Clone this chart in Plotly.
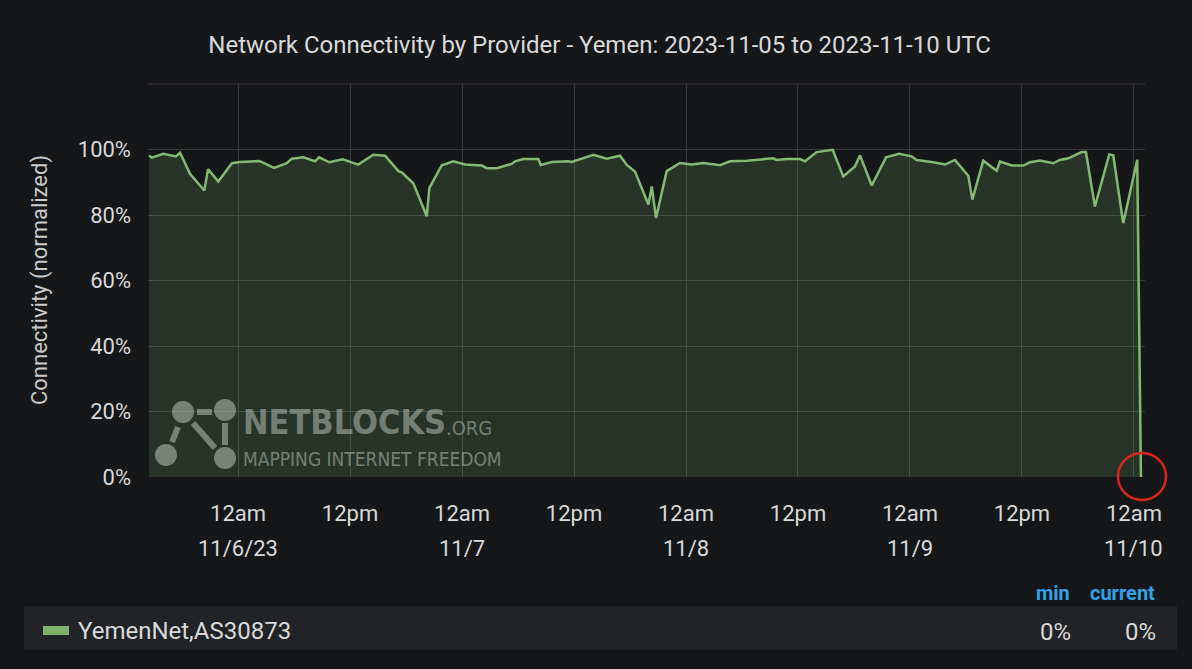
import plotly.graph_objects as go

# ---------------- data ----------------
times = [
    "2023-11-05 14:28", "2023-11-05 14:45", "2023-11-05 16:00", "2023-11-05 17:21", "2023-11-05 17:47",
    "2023-11-05 18:51", "2023-11-05 20:23", "2023-11-05 20:47", "2023-11-05 21:53", "2023-11-05 23:20",
    "2023-11-06 00:13", "2023-11-06 02:17", "2023-11-06 03:51", "2023-11-06 05:13", "2023-11-06 05:45",
    "2023-11-06 07:00", "2023-11-06 08:15", "2023-11-06 08:41", "2023-11-06 09:47", "2023-11-06 11:13",
    "2023-11-06 12:53", "2023-11-06 14:30", "2023-11-06 15:45", "2023-11-06 17:11", "2023-11-06 17:32",
    "2023-11-06 18:47", "2023-11-06 20:13", "2023-11-06 20:30", "2023-11-06 21:50", "2023-11-06 23:04",
    "2023-11-07 00:19", "2023-11-07 02:07", "2023-11-07 02:39", "2023-11-07 03:43", "2023-11-07 05:20",
    "2023-11-07 05:41", "2023-11-07 06:34", "2023-11-07 08:11", "2023-11-07 08:26", "2023-11-07 09:37",
    "2023-11-07 11:23", "2023-11-07 11:45", "2023-11-07 14:04", "2023-11-07 15:30", "2023-11-07 16:56",
    "2023-11-07 17:39", "2023-11-07 18:32", "2023-11-07 19:58", "2023-11-07 20:20", "2023-11-07 20:47",
    "2023-11-07 21:56", "2023-11-07 23:21", "2023-11-08 00:37", "2023-11-08 01:51", "2023-11-08 03:39",
    "2023-11-08 04:43", "2023-11-08 06:30", "2023-11-08 09:21", "2023-11-08 09:43", "2023-11-08 10:47",
    "2023-11-08 12:13", "2023-11-08 12:45", "2023-11-08 14:00", "2023-11-08 15:43", "2023-11-08 16:51",
    "2023-11-08 18:06", "2023-11-08 18:39", "2023-11-08 19:54", "2023-11-08 21:26", "2023-11-08 22:51",
    "2023-11-09 00:11", "2023-11-09 00:43", "2023-11-09 02:30", "2023-11-09 03:45", "2023-11-09 04:49",
    "2023-11-09 06:15", "2023-11-09 06:41", "2023-11-09 07:51", "2023-11-09 09:17", "2023-11-09 09:39",
    "2023-11-09 10:54", "2023-11-09 12:08", "2023-11-09 12:51", "2023-11-09 13:56", "2023-11-09 15:21",
    "2023-11-09 16:04", "2023-11-09 16:58", "2023-11-09 18:24", "2023-11-09 18:51", "2023-11-09 19:49",
    "2023-11-09 21:21", "2023-11-09 21:47", "2023-11-09 22:51", "2023-11-10 00:21", "2023-11-10 00:45",
]
connectivity = [
    98.2, 97.5, 98.7, 97.9, 99.0, 92.6, 87.5, 94.0, 90.2, 95.8,
    96.2, 96.5, 94.4, 95.8, 97.2, 97.6, 96.4, 97.6, 96.1, 97.0,
    95.4, 98.4, 98.1, 93.4, 93.0, 89.7, 79.6, 88.3, 95.2, 96.4,
    95.4, 95.1, 94.3, 94.3, 95.6, 96.4, 97.1, 97.1, 95.3, 96.2,
    96.4, 96.2, 98.4, 97.2, 98.1, 95.3, 93.3, 83.2, 88.7, 79.1,
    93.4, 95.9, 95.4, 95.9, 95.2, 96.4, 96.6, 97.3, 96.8, 97.1,
    97.1, 96.4, 99.2, 99.9, 91.8, 94.8, 98.2, 89.0, 97.6, 98.7,
    97.9, 96.8, 96.1, 95.4, 96.8, 92.0, 84.7, 96.6, 93.5, 96.3,
    95.1, 95.1, 96.1, 96.6, 95.8, 96.8, 97.3, 99.2, 99.2, 82.6,
    98.5, 98.2, 77.5, 96.9, 0.0,
]
series_name = "YemenNet,AS30873"
x_tick_vals = ["2023-11-06 00:00", "2023-11-06 12:00", "2023-11-07 00:00", "2023-11-07 12:00",
               "2023-11-08 00:00", "2023-11-08 12:00", "2023-11-09 00:00", "2023-11-09 12:00",
               "2023-11-10 00:00"]
x_tick_text = ["12am", "12pm", "12am", "12pm", "12am", "12pm", "12am", "12pm", "12am"]
date_labels = ["11/6/23", "11/7", "11/8", "11/9", "11/10"]
date_label_pos = ["2023-11-06 00:00", "2023-11-07 00:00", "2023-11-08 00:00", "2023-11-09 00:00",
                  "2023-11-10 00:00"]
y_tick_vals = [0, 20, 40, 60, 80, 100, 120]
y_tick_text = ["0%", "20%", "40%", "60%", "80%", "100%", ""]
legend_min = "0%"
legend_current = "0%"

# ---------------- layout helpers (pixel -> paper) ----------------
W, H = 1192, 669
L, R, T, B = 148, 1145, 84, 477


def px(x):
    return (x - L) / (R - L)


def py(y):
    return (B - y) / (B - T)


BG = "#161719"
TXT = "#d8d9da"
GREEN = "#7eb26d"
GRID = "#38393c"
FONT = "Roboto, Noto Sans, sans-serif"
WMFONT = "Liberation Sans Narrow, DejaVu Sans Condensed, sans-serif"

fig = go.Figure()
fig.add_trace(go.Scatter(
    x=times, y=connectivity, mode="lines", name=series_name,
    line=dict(color="#84b973", width=2.5),
    fill="tozeroy", fillcolor="rgba(126,178,109,0.19)",
    hoverinfo="x+y",
))

shapes = []
annotations = []

# watermark logo (nodes + links)
wm = "rgba(185,192,185,0.55)"
for (x0, y0, x1, y1) in [(197, 412, 212, 412), (193, 423, 215, 448), (178, 427, 172, 442), (225, 423, 225, 445)]:
    shapes.append(dict(type="line", xref="paper", yref="paper", x0=px(x0), y0=py(y0), x1=px(x1), y1=py(y1),
                       line=dict(color=wm, width=6), layer="above"))
for (cx, cy, r) in [(183, 412, 11), (225, 410, 11), (166, 455, 11), (225, 458, 11)]:
    shapes.append(dict(type="circle", xref="paper", yref="paper", x0=px(cx - r), x1=px(cx + r),
                       y0=py(cy + r), y1=py(cy - r), fillcolor=wm, line=dict(width=0), layer="above"))
annotations.append(dict(text="<b>NETBLOCKS</b>", xref="paper", yref="paper", x=px(241), y=py(422),
                        xanchor="left", yanchor="middle", showarrow=False,
                        font=dict(family=WMFONT, size=34, color=wm)))
annotations.append(dict(text=".ORG", xref="paper", yref="paper", x=px(444), y=py(428),
                        xanchor="left", yanchor="middle", showarrow=False,
                        font=dict(family=WMFONT, size=20, color=wm)))
annotations.append(dict(text="MAPPING INTERNET FREEDOM", xref="paper", yref="paper", x=px(241), y=py(459),
                        xanchor="left", yanchor="middle", showarrow=False,
                        font=dict(family=WMFONT, size=19, color=wm)))

# red highlight circle
shapes.append(dict(type="circle", xref="paper", yref="paper", x0=px(1118), x1=px(1166), y0=py(500), y1=py(453),
                   line=dict(color="#d9231f", width=2.5), layer="above"))

# top border line of plot
shapes.append(dict(type="line", xref="paper", yref="paper", x0=0, x1=1, y0=1, y1=1,
                   line=dict(color=GRID, width=1)))

# legend table
shapes.append(dict(type="rect", xref="paper", yref="paper", x0=px(24), x1=px(1177), y0=py(650), y1=py(606),
                   fillcolor="#222326", line=dict(width=0), layer="below"))
shapes.append(dict(type="rect", xref="paper", yref="paper", x0=px(43), x1=px(69), y0=py(635), y1=py(626),
                   fillcolor=GREEN, line=dict(width=0)))
annotations.append(dict(text=series_name, xref="paper", yref="paper", x=px(76), y=py(631),
                        xanchor="left", yanchor="middle", showarrow=False, font=dict(family=FONT, size=24, color=TXT)))
annotations.append(dict(text="<b>min</b>", xref="paper", yref="paper", x=px(1072), y=py(593),
                        xanchor="right", yanchor="middle", showarrow=False, font=dict(family=FONT, size=20, color="#33a2e5")))
annotations.append(dict(text="<b>current</b>", xref="paper", yref="paper", x=px(1157), y=py(593),
                        xanchor="right", yanchor="middle", showarrow=False, font=dict(family=FONT, size=20, color="#33a2e5")))
annotations.append(dict(text=legend_min, xref="paper", yref="paper", x=px(1073), y=py(632),
                        xanchor="right", yanchor="middle", showarrow=False, font=dict(family=FONT, size=24, color=TXT)))
annotations.append(dict(text=legend_current, xref="paper", yref="paper", x=px(1158), y=py(632),
                        xanchor="right", yanchor="middle", showarrow=False, font=dict(family=FONT, size=24, color=TXT)))

# date second-line labels
for d, pos in zip(date_labels, date_label_pos):
    annotations.append(dict(text=d, xref="x", yref="paper", x=pos, y=py(548), xanchor="center", yanchor="middle",
                            showarrow=False, font=dict(family=FONT, size=22, color=TXT)))

# y axis title
annotations.append(dict(text="Connectivity (normalized)", xref="paper", yref="paper", x=px(40), y=py(280),
                        xanchor="center", yanchor="middle", textangle=-90, showarrow=False,
                        font=dict(family=FONT, size=22, color="#c8c9ca")))

fig.update_layout(
    width=W, height=H,
    margin=dict(l=L, r=W - R, t=T, b=H - B),
    paper_bgcolor=BG, plot_bgcolor=BG,
    showlegend=False,
    title=dict(text="Network Connectivity by Provider - Yemen: 2023-11-05 to 2023-11-10 UTC",
               x=0.503, xanchor="center", y=1 - 45 / H, yanchor="middle",
               font=dict(family=FONT, size=24, color=TXT)),
    xaxis=dict(type="date", range=["2023-11-05 14:21", "2023-11-10 01:11"],
               tickmode="array", tickvals=x_tick_vals, ticktext=x_tick_text,
               showgrid=True, gridcolor=GRID, gridwidth=1, zeroline=False, showline=False,
               ticks="", ticklabelstandoff=21,
               tickfont=dict(family=FONT, size=22, color=TXT)),
    yaxis=dict(range=[0, 120], tickmode="array", tickvals=y_tick_vals, ticktext=y_tick_text,
               showgrid=True, gridcolor=GRID, gridwidth=1, zeroline=False, showline=False,
               ticks="", ticklabelstandoff=16,
               tickfont=dict(family=FONT, size=22, color=TXT)),
    shapes=shapes, annotations=annotations,
)

fig.write_html(
    "out.html",
    config={"displayModeBar": False},
    post_script="document.body.style.margin='0';document.body.style.background='#161719';"
                "document.documentElement.style.overflow='hidden';",
)
